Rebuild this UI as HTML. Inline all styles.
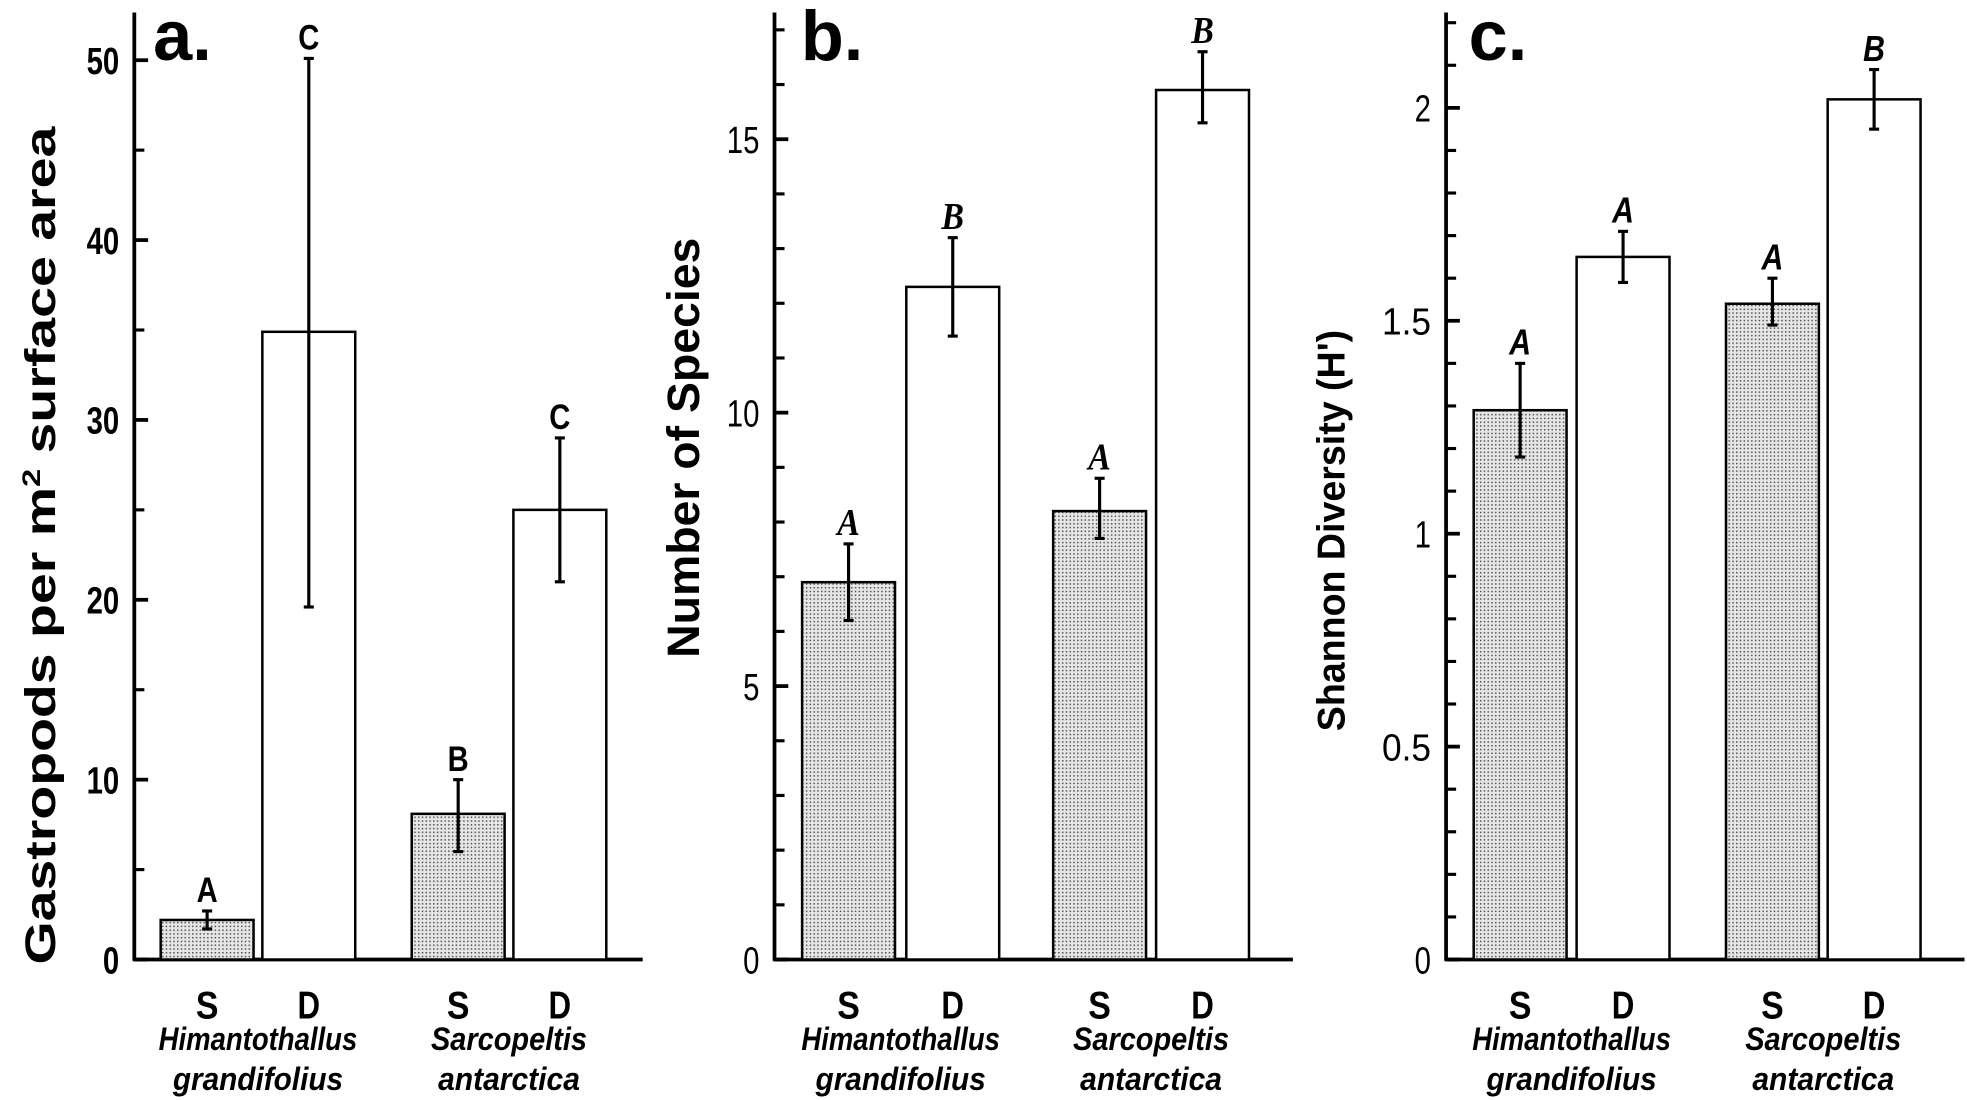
<!DOCTYPE html>
<html><head><meta charset="utf-8"><style>html,body{margin:0;padding:0;background:#fff}svg{display:block}</style></head>
<body>
<svg id="fig" width="1967" height="1100" viewBox="0 0 1567 877" preserveAspectRatio="none" xmlns="http://www.w3.org/2000/svg">
<defs>
<pattern id="dots" width="3" height="3" patternUnits="userSpaceOnUse">
<rect width="3" height="3" fill="#e6e6e6"/><rect x="0" y="0" width="1.2" height="1.2" fill="#555"/>
</pattern>
</defs>
</svg>
<script>
const categories = ["S","D","S","D"];
const groupNames = [["Himantothallus","grandifolius"],["Sarcopeltis","antarctica"]];
const gastroValues = [2.2, 34.9, 8.1, 25.0];
const gastroErrLow = [1.7, 19.6, 6.0, 21.0];
const gastroErrHigh = [2.7, 50.1, 10.0, 29.0];
const gastroLetters = ["A","C","B","C"];
const gastroTicks = [0,10,20,30,40,50];
const speciesValues = [6.9, 12.3, 8.2, 15.9];
const speciesErrLow = [6.2, 11.4, 7.7, 15.3];
const speciesErrHigh = [7.6, 13.2, 8.8, 16.6];
const speciesLetters = ["A","B","A","B"];
const speciesTicks = [0,5,10,15];
const shannonValues = [1.29, 1.65, 1.54, 2.02];
const shannonErrLow = [1.18, 1.59, 1.49, 1.95];
const shannonErrHigh = [1.40, 1.71, 1.60, 2.09];
const shannonLetters = ["A","A","A","B"];
const shannonTicks = [0,0.5,1,1.5,2];

const svg = document.getElementById('fig');
const NS = 'http://www.w3.org/2000/svg';
function mk(tag, attrs, parent){const e=document.createElementNS(NS,tag);for(const k in attrs)e.setAttribute(k,attrs[k]);(parent||svg).appendChild(e);return e;}

function panel(cfg){
  const g = mk('g',{});
  
  
  const base=765, ax=cfg.ax;
  const y = v => base - v * cfg.pxPerUnit;
  const yaxis = mk('line',{x1:ax,y1:cfg.top,x2:ax,y2:base+1,stroke:'#000','stroke-width':3},g);
  
  
  const xaxis = mk('line',{x1:ax-1,y1:base,x2:ax+cfg.xlen,y2:base,stroke:'#000','stroke-width':3},g);
  
  
  const maxV=(base-cfg.top)/cfg.pxPerUnit;
  for(let v=0; v<=maxV+1e-9; v+=cfg.minor){
    mk('line',{x1:ax,y1:y(v),x2:ax+8,y2:y(v),stroke:'#000','stroke-width':2.5},g);
  }
  cfg.ticks.forEach(t=>{
    mk('line',{x1:ax,y1:y(t),x2:ax+11,y2:y(t),stroke:'#000','stroke-width':3},g);
    const s=String(t);
    const tl = mk('text',{x:ax-12,y:y(t)+11,'text-anchor':'end','font-family':'Liberation Sans, sans-serif','font-size':30,'font-weight':cfg.tickBold?'bold':'normal',textLength:s.length*13,lengthAdjust:'spacingAndGlyphs'},g);
    tl.textContent = s;
    
    
  });
  cfg.values.forEach((v,i)=>{
    const x0 = ax + cfg.barOff[i];
    const bw = 74;
    const r = mk('rect',{x:x0,y:y(v),width:bw,height:base-y(v),fill:(i%2===0)?'url(#dots)':'#fff',stroke:'#000','stroke-width':2},g);
    
    
    const cx = x0+bw/2;
    mk('line',{x1:cx,y1:y(cfg.lo[i]),x2:cx,y2:y(cfg.hi[i]),stroke:'#000','stroke-width':2.5},g);
    mk('line',{x1:cx-4,y1:y(cfg.lo[i]),x2:cx+4,y2:y(cfg.lo[i]),stroke:'#000','stroke-width':2.5},g);
    mk('line',{x1:cx-4,y1:y(cfg.hi[i]),x2:cx+4,y2:y(cfg.hi[i]),stroke:'#000','stroke-width':2.5},g);
    const lt = mk('text',{x:cx,y:y(cfg.hi[i])-7,'text-anchor':'middle','font-family':cfg.letterFont,'font-size':cfg.letterSize,'font-weight':'bold','font-style':cfg.letterItalic?'italic':'normal',textLength:cfg.letterSize*0.6,lengthAdjust:'spacingAndGlyphs'},g);
    lt.textContent = cfg.letters[i];
    
    
    const cl = mk('text',{x:cx,y:812,'text-anchor':'middle','font-family':'Liberation Sans, sans-serif','font-size':31,'font-weight':'bold',textLength:18,lengthAdjust:'spacingAndGlyphs'},g);
    cl.textContent = categories[i];
    
    
  });
  groupNames.forEach((nm,gi)=>{
    const cx = ax + (cfg.barOff[gi*2]+cfg.barOff[gi*2+1]+74)/2;
    nm.forEach((w,li)=>{
      const t = mk('text',{x:cx,y:837+li*32,'text-anchor':'middle','font-family':'Liberation Sans, sans-serif','font-size':26,'font-style':'italic','font-weight':'bold',textLength:w.length*11.3,lengthAdjust:'spacingAndGlyphs'},g);
      t.textContent = w;
      
      
    });
  });
  const pl = mk('text',{x:cfg.labX,y:48,'font-family':'Liberation Sans, sans-serif','font-size':56,'font-weight':'bold'},g);
  pl.textContent = cfg.panelLabel;
  
  
  const yt = mk('text',{x:0,y:0,'text-anchor':'middle','font-family':'Liberation Sans, sans-serif','font-size':cfg.ytSize,'font-weight':'bold',textLength:cfg.ytLen,lengthAdjust:'spacingAndGlyphs',transform:`translate(${cfg.ytX},${cfg.ytY}) rotate(-90)`},g);
  yt.innerHTML = cfg.ytitle;
  
  
}

panel({name:'panel-a',ax:107,top:10,xlen:405,pxPerUnit:(765-48)/50,minor:5,ticks:gastroTicks,tickBold:true,
  values:gastroValues,lo:gastroErrLow,hi:gastroErrHigh,letters:gastroLetters,barOff:[21,102,221,302],
  letterFont:'Liberation Sans, sans-serif',letterSize:28,letterItalic:false,panelLabel:'a.',labX:122,
  ytitle:'Gastropods per m<tspan dy="-12" font-size="20">2</tspan><tspan dy="12"> surface area</tspan>',ytSize:34,ytLen:668,ytX:44,ytY:435});
panel({name:'panel-b',ax:617,top:10,xlen:413,pxPerUnit:(765-111)/15,minor:1,ticks:speciesTicks,tickBold:false,
  values:speciesValues,lo:speciesErrLow,hi:speciesErrHigh,letters:speciesLetters,barOff:[22,105,222,304],
  letterFont:'Liberation Serif, serif',letterSize:30,letterItalic:true,panelLabel:'b.',labX:638,
  ytitle:'Number of Species',ytSize:36,ytLen:335,ytX:557,ytY:357});
panel({name:'panel-c',ax:1152,top:10,xlen:413,pxPerUnit:(765-86)/2,minor:0.1,ticks:shannonTicks,tickBold:false,
  values:shannonValues,lo:shannonErrLow,hi:shannonErrHigh,letters:shannonLetters,barOff:[22,104,223,304],
  letterFont:'Liberation Sans, sans-serif',letterSize:29,letterItalic:true,panelLabel:'c.',labX:1170,
  ytitle:"Shannon Diversity (H')",ytSize:31,ytLen:320,ytX:1071,ytY:423});
</script>
</body></html>
